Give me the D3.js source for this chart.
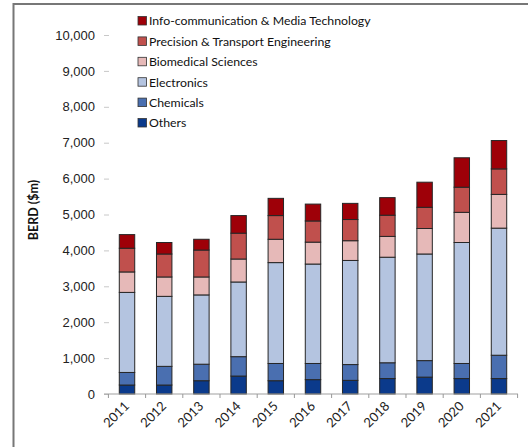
<!DOCTYPE html>
<html><head><meta charset="utf-8">
<script src="https://cdn.jsdelivr.net/npm/d3@7"></script>
<style>html,body{margin:0;padding:0;background:#fff;}svg{display:block;font-family:Lato,"Open Sans",sans-serif;}</style>
</head><body><svg id="c" width="528" height="447"></svg>
<script>
const years = ["2011","2012","2013","2014","2015","2016","2017","2018","2019","2020","2021"];
const seriesNames = ["Others","Chemicals","Electronics","Biomedical Sciences","Precision & Transport Engineering","Info-communication & Media Technology"];
const others      = [250, 250, 370, 500, 370, 400, 380, 430, 470, 430, 430];
const chemicals   = [350, 520, 460, 540, 480, 450, 440, 440, 460, 420, 650];
const electronics = [2230,1950,1930,2080,2810,2770,2900,2940,2970,3370,3540];
const biomedical  = [570, 540, 500, 640, 650, 610, 550, 580, 710, 840, 940];
const precision   = [660, 640, 750, 720, 660, 590, 590, 590, 590, 700, 710];
const ict         = [380, 320, 300, 490, 480, 470, 450, 490, 700, 820, 790];
const yTicks = [0,1000,2000,3000,4000,5000,6000,7000,8000,9000,10000];
const colors = ["#0b3a8b","#4a6fb0","#b4c4e0","#e6b9b8","#c0504d","#9e0008"];

const seriesVals = [others, chemicals, electronics, biomedical, precision, ict];
const rows = years.map((y,i)=>{const r={year:y}; seriesNames.forEach((s,k)=>r[s]=seriesVals[k][i]); return r;});
const stacked = d3.stack().keys(seriesNames)(rows);

const svg = d3.select("#c");
// frame
svg.append("line").attr("x1",13.5).attr("x2",13.5).attr("y1",3).attr("y2",447).attr("stroke","#777").attr("stroke-width",2);
svg.append("line").attr("x1",13).attr("x2",528).attr("y1",4).attr("y2",4).attr("stroke","#777").attr("stroke-width",2);

const x = d3.scaleBand().domain(years).range([108.5,517.5]).paddingInner(0.585).paddingOuter(0.29);
const y = d3.scaleLinear().domain([0,10000]).range([394,35]);

// y axis
const yAxis = svg.append("g").attr("transform","translate(109,0)")
  .call(d3.axisLeft(y).tickValues(yTicks).tickFormat(d3.format(",")).tickSize(5).tickPadding(9));
yAxis.select(".domain").remove();
yAxis.selectAll(".tick line").attr("stroke","#c8c8c8");
yAxis.selectAll(".tick text").attr("font-size",13).attr("fill","#222");

svg.append("text").attr("transform","translate(38,210) rotate(-90)").attr("text-anchor","middle")
  .attr("font-size",12.5).attr("font-weight","bold").attr("fill","#111").text("BERD ($m)");

// bars
svg.append("g").selectAll("g").data(stacked).join("g").attr("fill",(d,i)=>colors[i])
  .selectAll("rect").data(d=>d).join("rect")
  .attr("x",d=>x(d.data.year)).attr("width",x.bandwidth())
  .attr("y",d=>y(d[1])).attr("height",d=>y(d[0])-y(d[1]))
  .attr("stroke","#262626").attr("stroke-width",1);

// x axis
const xg = svg.append("g").attr("transform","translate(0,394)");
xg.append("line").attr("x1",104).attr("x2",518).attr("stroke","#a0a0a0").attr("stroke-width",1.2);
const step = x.step();
const bounds = years.map((d,i)=>x(d)-(step-x.bandwidth())/2).concat([x(years[years.length-1])+x.bandwidth()+(step-x.bandwidth())/2]);
xg.selectAll("line.tk").data(bounds).join("line").attr("class","tk")
  .attr("x1",d=>d).attr("x2",d=>d).attr("y1",0).attr("y2",4).attr("stroke","#999");
xg.selectAll("text").data(years).join("text")
  .attr("transform",d=>`translate(${x(d)+x.bandwidth()/2+3},${13}) rotate(-45)`)
  .attr("text-anchor","end").attr("font-size",13).attr("fill","#222").text(d=>d);

// legend
const legendOrder = seriesNames.map((s,i)=>({s,c:colors[i]})).reverse();
const lg = svg.append("g").selectAll("g").data(legendOrder).join("g")
  .attr("transform",(d,i)=>`translate(138,${21+i*20.4})`);
lg.append("rect").attr("x",0).attr("y",-4.5).attr("width",8.5).attr("height",8.5).attr("fill",d=>d.c).attr("stroke","#333").attr("stroke-width",0.8);
lg.append("text").attr("x",11).attr("y",0).attr("dy","0.35em").attr("font-size",12.3).attr("fill","#111").text(d=>d.s);
</script></body></html>
